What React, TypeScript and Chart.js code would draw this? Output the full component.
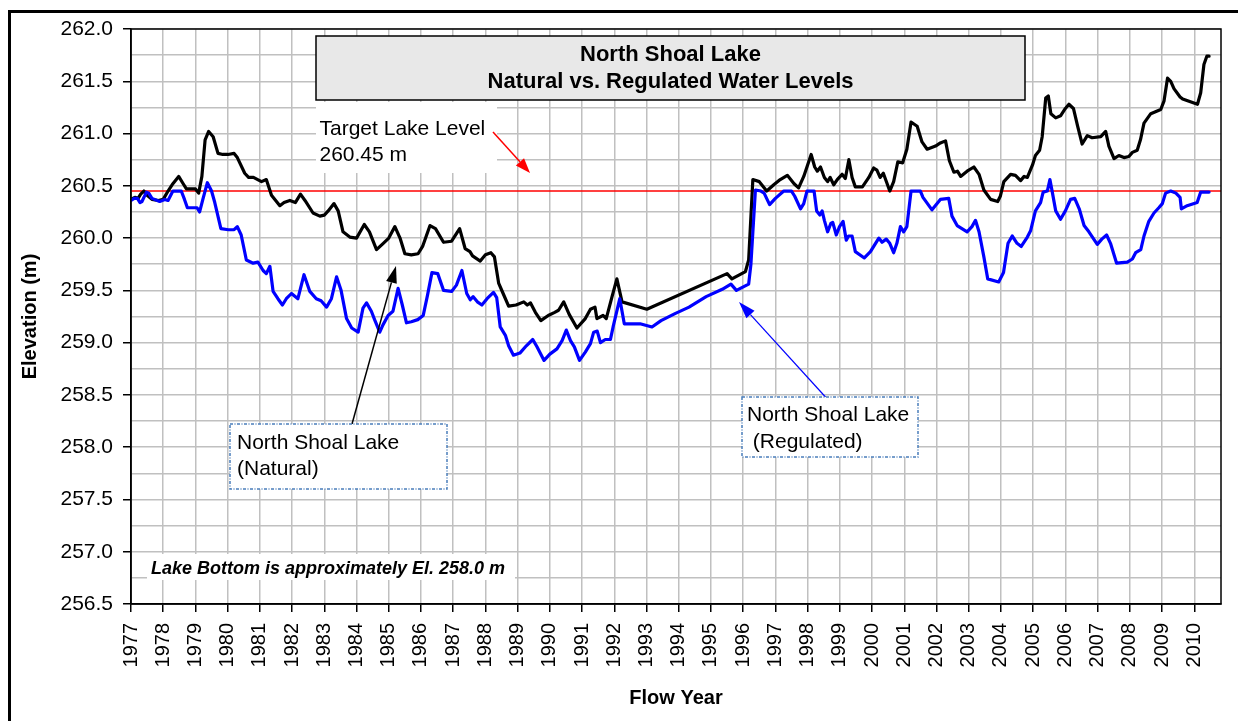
import React, { useEffect, useRef } from 'react';
import { Chart, registerables } from 'chart.js';

Chart.register(...registerables);

// ---------------- DATA ----------------
const naturalYears = [
  1977.0, 1977.12, 1977.22, 1977.3, 1977.4, 1977.5, 1977.65, 1977.85, 1978.0, 1978.15,
  1978.3, 1978.48, 1978.62, 1978.72, 1978.9, 1979.0, 1979.1, 1979.2, 1979.3, 1979.41,
  1979.55, 1979.7, 1979.85, 1980.01, 1980.2, 1980.3, 1980.53, 1980.65, 1980.8, 1981.05,
  1981.2, 1981.36, 1981.62, 1981.75, 1981.93, 1982.1, 1982.26, 1982.4, 1982.65, 1982.86,
  1983.0, 1983.12, 1983.3, 1983.43, 1983.58, 1983.79, 1984.0, 1984.24, 1984.4, 1984.62,
  1984.83, 1985.0, 1985.19, 1985.35, 1985.5, 1985.7, 1985.91, 1986.05, 1986.28, 1986.45,
  1986.7, 1986.95, 1987.2, 1987.37, 1987.52, 1987.6, 1987.84, 1988.0, 1988.17, 1988.28,
  1988.41, 1988.55, 1988.72, 1988.95, 1989.19, 1989.3, 1989.4, 1989.55, 1989.72, 1989.95,
  1990.15, 1990.27, 1990.43, 1990.6, 1990.84, 1991.1, 1991.26, 1991.4, 1991.46, 1991.65,
  1991.75, 1991.93, 1992.08, 1992.24, 1993.01, 1995.5, 1995.65, 1996.07, 1996.17, 1996.3,
  1996.5, 1996.73, 1996.95, 1997.15, 1997.37, 1997.58, 1997.72, 1997.88, 1998.0, 1998.11,
  1998.22, 1998.3, 1998.4, 1998.52, 1998.62, 1998.7, 1998.81, 1998.92, 1999.07, 1999.17,
  1999.28, 1999.38, 1999.48, 1999.7, 1999.9, 2000.05, 2000.15, 2000.25, 2000.35, 2000.55,
  2000.67, 2000.8, 2000.95, 2001.08, 2001.21, 2001.4, 2001.55, 2001.71, 2001.97, 2002.12,
  2002.28, 2002.4, 2002.54, 2002.65, 2002.75, 2002.95, 2003.16, 2003.32, 2003.47, 2003.68,
  2003.9, 2003.98, 2004.09, 2004.3, 2004.45, 2004.61, 2004.72, 2004.82, 2004.98, 2005.07,
  2005.2, 2005.28, 2005.39, 2005.47, 2005.55, 2005.7, 2005.85, 2006.0, 2006.11, 2006.25,
  2006.38, 2006.52, 2006.68, 2006.83, 2007.1, 2007.25, 2007.35, 2007.51, 2007.66, 2007.82,
  2007.97, 2008.08, 2008.23, 2008.33, 2008.44, 2008.65, 2008.96, 2009.06, 2009.17, 2009.27,
  2009.37, 2009.56, 2009.64, 2010.1, 2010.2, 2010.3, 2010.39, 2010.46,
];
const naturalLevels = [
  260.37, 260.39, 260.38, 260.42, 260.45, 260.41, 260.37, 260.36, 260.37, 260.45,
  260.52, 260.59, 260.52, 260.47, 260.47, 260.47, 260.43, 260.59, 260.94, 261.02,
  260.97, 260.81, 260.8, 260.8, 260.81, 260.77, 260.62, 260.58, 260.58, 260.54,
  260.56, 260.41, 260.31, 260.34, 260.36, 260.34, 260.42, 260.36, 260.24, 260.21,
  260.22, 260.26, 260.33, 260.26, 260.06, 260.01, 260.0, 260.13, 260.06, 259.89,
  259.95, 260.0, 260.11, 260.0, 259.85, 259.84, 259.85, 259.92, 260.12, 260.09,
  259.96, 259.97, 260.09, 259.9, 259.87, 259.83, 259.78, 259.84, 259.86, 259.82,
  259.57, 259.47, 259.35, 259.36, 259.39, 259.36, 259.38, 259.29, 259.21, 259.26,
  259.29, 259.31, 259.39, 259.27, 259.14, 259.23, 259.32, 259.34, 259.23, 259.26,
  259.23, 259.44, 259.61, 259.39, 259.32, 259.66, 259.61, 259.68, 259.79, 260.56,
  260.54, 260.45, 260.51, 260.56, 260.6, 260.52, 260.48, 260.59, 260.7, 260.8,
  260.68, 260.64, 260.68, 260.58, 260.54, 260.58, 260.51, 260.56, 260.61, 260.57,
  260.75, 260.58, 260.49, 260.49, 260.58, 260.67, 260.65, 260.58, 260.62, 260.45,
  260.54, 260.73, 260.72, 260.85, 261.11, 261.07, 260.92, 260.85, 260.88, 260.91,
  260.93, 260.74, 260.63, 260.64, 260.59, 260.64, 260.68, 260.61, 260.46, 260.37,
  260.35, 260.4, 260.54, 260.61, 260.6, 260.55, 260.59, 260.58, 260.7, 260.79,
  260.84, 260.97, 261.34, 261.36, 261.19, 261.15, 261.17, 261.24, 261.28, 261.24,
  261.07, 260.9, 260.98, 260.96, 260.97, 261.02, 260.88, 260.76, 260.79, 260.77,
  260.78, 260.82, 260.84, 260.94, 261.1, 261.19, 261.23, 261.31, 261.53, 261.5,
  261.43, 261.35, 261.33, 261.28, 261.39, 261.66, 261.74, 261.74,
];

const regulatedYears = [
  1977.0, 1977.1, 1977.2, 1977.28, 1977.34, 1977.48, 1977.55, 1977.65, 1977.89, 1978.05,
  1978.15, 1978.3, 1978.56, 1978.66, 1978.75, 1978.95, 1979.05, 1979.13, 1979.23, 1979.37,
  1979.5, 1979.6, 1979.79, 1980.02, 1980.2, 1980.3, 1980.42, 1980.58, 1980.79, 1980.94,
  1981.1, 1981.2, 1981.31, 1981.41, 1981.56, 1981.7, 1981.82, 1981.98, 1982.18, 1982.37,
  1982.55, 1982.75, 1982.9, 1983.07, 1983.22, 1983.38, 1983.52, 1983.69, 1983.85, 1984.05,
  1984.2, 1984.31, 1984.46, 1984.56, 1984.72, 1984.82, 1984.98, 1985.13, 1985.29, 1985.42,
  1985.55, 1985.7, 1985.9, 1986.07, 1986.2, 1986.34, 1986.52, 1986.7, 1986.95, 1987.1,
  1987.27, 1987.42, 1987.53, 1987.62, 1987.75, 1987.89, 1988.05, 1988.25, 1988.35, 1988.46,
  1988.62, 1988.72, 1988.87, 1989.07, 1989.27, 1989.47, 1989.6, 1989.82, 1990.0, 1990.22,
  1990.38, 1990.51, 1990.64, 1990.76, 1990.92, 1991.1, 1991.26, 1991.36, 1991.47, 1991.57,
  1991.72, 1991.88, 1991.97, 1992.17, 1992.31, 1992.8, 1993.17, 1993.45, 1993.9, 1994.32,
  1994.85, 1995.35, 1995.62, 1995.79, 1996.17, 1996.24, 1996.38, 1996.55, 1996.65, 1996.82,
  1997.0, 1997.26, 1997.5, 1997.6, 1997.78, 1997.88, 1997.98, 1998.2, 1998.28, 1998.38,
  1998.45, 1998.52, 1998.62, 1998.72, 1998.78, 1998.89, 1998.99, 1999.1, 1999.2, 1999.27,
  1999.38, 1999.48, 1999.76, 1999.95, 2000.21, 2000.31, 2000.44, 2000.55, 2000.67, 2000.77,
  2000.88, 2000.98, 2001.08, 2001.21, 2001.5, 2001.58, 2001.86, 2002.12, 2002.38, 2002.48,
  2002.64, 2002.95, 2003.1, 2003.21, 2003.32, 2003.47, 2003.59, 2003.93, 2004.08, 2004.22,
  2004.35, 2004.5, 2004.63, 2004.82, 2004.92, 2005.07, 2005.23, 2005.31, 2005.44, 2005.52,
  2005.6, 2005.7, 2005.85, 2006.0, 2006.16, 2006.29, 2006.43, 2006.58, 2006.73, 2006.99,
  2007.13, 2007.28, 2007.4, 2007.59, 2007.92, 2008.08, 2008.18, 2008.34, 2008.44, 2008.59,
  2008.75, 2008.9, 2009.01, 2009.11, 2009.27, 2009.43, 2009.56, 2009.6, 2009.78, 2010.09,
  2010.2, 2010.46,
];
const regulatedLevels = [
  260.36, 260.38, 260.38, 260.34, 260.35, 260.44, 260.43, 260.38, 260.35, 260.37,
  260.36, 260.45, 260.45, 260.37, 260.29, 260.29, 260.29, 260.25, 260.37, 260.53,
  260.45, 260.34, 260.09, 260.08, 260.08, 260.11, 260.03, 259.79, 259.76, 259.77,
  259.69, 259.66, 259.73, 259.49, 259.42, 259.36, 259.42, 259.47, 259.42, 259.65,
  259.49, 259.42, 259.4, 259.34, 259.42, 259.63, 259.5, 259.23, 259.14, 259.1,
  259.33, 259.38, 259.3, 259.22, 259.1, 259.17, 259.26, 259.3, 259.52, 259.36,
  259.19, 259.2, 259.22, 259.26, 259.45, 259.67, 259.66, 259.5, 259.49, 259.55,
  259.69, 259.47, 259.41, 259.44, 259.39, 259.36, 259.42, 259.48, 259.43, 259.15,
  259.07, 258.97, 258.88, 258.9, 258.97, 259.03, 258.96, 258.83, 258.89, 258.94,
  259.02, 259.12, 259.02, 258.96, 258.83, 258.91, 258.99, 259.1, 259.11, 259.0,
  259.03, 259.03, 259.16, 259.42, 259.18, 259.18, 259.15, 259.21, 259.28, 259.34,
  259.44, 259.51, 259.56, 259.5, 259.56, 259.75, 260.46, 260.45, 260.43, 260.32,
  260.38, 260.45, 260.45, 260.4, 260.28, 260.33, 260.45, 260.45, 260.26, 260.22,
  260.26, 260.17, 260.06, 260.14, 260.15, 260.03, 260.11, 260.16, 259.98, 260.02,
  260.02, 259.87, 259.81, 259.87, 260.0, 259.96, 259.99, 259.95, 259.86, 259.95,
  260.11, 260.06, 260.11, 260.45, 260.45, 260.39, 260.27, 260.37, 260.38, 260.21,
  260.12, 260.06, 260.11, 260.17, 260.06, 259.82, 259.61, 259.58, 259.67, 259.95,
  260.02, 259.95, 259.92, 260.01, 260.07, 260.26, 260.34, 260.44, 260.45, 260.56,
  260.43, 260.26, 260.18, 260.26, 260.37, 260.38, 260.28, 260.12, 260.06, 259.94,
  259.99, 260.03, 259.95, 259.76, 259.77, 259.8, 259.86, 259.89, 260.02, 260.16,
  260.24, 260.29, 260.33, 260.43, 260.45, 260.43, 260.39, 260.28, 260.31, 260.34,
  260.44, 260.44,
];

const targetLevel = 260.45;
const xRange = [1977, 2010.83];
const yRange = [256.5, 262.0];
const xTickStep = 1;
const yTickStep = 0.25;
const yLabelStep = 0.5;

const titleLines = ['North Shoal Lake', 'Natural vs. Regulated Water Levels'];
const targetLabelLines = ['Target Lake Level', '260.45 m'];
const naturalLabelLines = ['North Shoal Lake', '(Natural)'];
const regulatedLabelLines = ['North Shoal Lake', ' (Regulated)'];
const bottomNote = 'Lake Bottom is approximately El. 258.0 m';
const yAxisTitle = 'Elevation (m)';
const xAxisTitle = 'Flow Year';

// ---------------- DRAWING ----------------
const FONT = '"Liberation Sans", Arial, Helvetica, sans-serif';
const W = 1238;
const H = 721;

const isLabelTick = (v: number) =>
  Math.abs(v / yLabelStep - Math.round(v / yLabelStep)) < 1e-6;

function arrow(
  ctx: CanvasRenderingContext2D,
  x1: number, y1: number, x2: number, y2: number,
  color: string, width: number, headLen: number, headHalf: number
) {
  const ang = Math.atan2(y2 - y1, x2 - x1);
  const bx = x2 - headLen * Math.cos(ang);
  const by = y2 - headLen * Math.sin(ang);
  ctx.save();
  ctx.strokeStyle = color;
  ctx.fillStyle = color;
  ctx.lineWidth = width;
  ctx.beginPath();
  ctx.moveTo(x1, y1);
  ctx.lineTo(bx, by);
  ctx.stroke();
  ctx.beginPath();
  ctx.moveTo(x2, y2);
  ctx.lineTo(bx + headHalf * Math.sin(ang), by - headHalf * Math.cos(ang));
  ctx.lineTo(bx - headHalf * Math.sin(ang), by + headHalf * Math.cos(ang));
  ctx.closePath();
  ctx.fill();
  ctx.restore();
}

function dashedBox(ctx: CanvasRenderingContext2D, x: number, y: number, w: number, h: number) {
  ctx.save();
  ctx.fillStyle = '#FFFFFF';
  ctx.fillRect(x, y, w, h);
  ctx.strokeStyle = '#4A7EBB';
  ctx.lineWidth = 1.5;
  ctx.setLineDash([3, 1.5, 1, 1.5]);
  ctx.strokeRect(x, y, w, h);
  ctx.restore();
}

const decorPlugin = {
  id: 'decor',
  beforeDraw(chart: any) {
    const ctx = chart.ctx;
    ctx.save();
    ctx.fillStyle = '#FFFFFF';
    ctx.fillRect(0, 0, chart.width, chart.height);
    ctx.restore();
  },
  afterDraw(chart: any) {
    const ctx: CanvasRenderingContext2D = chart.ctx;
    const a = chart.chartArea;
    ctx.save();

    // plot frame
    ctx.strokeStyle = '#000';
    ctx.lineWidth = 1.5;
    ctx.strokeRect(a.left, a.top, a.right - a.left, a.bottom - a.top);

    // outer frame (top and left visible)
    ctx.fillStyle = '#000';
    ctx.fillRect(8, 10, W - 8, 3);
    ctx.fillRect(8, 10, 3, H - 10);

    // title box
    ctx.fillStyle = '#E8E8E8';
    ctx.fillRect(316, 36, 709, 64);
    ctx.strokeStyle = '#000';
    ctx.lineWidth = 1.5;
    ctx.strokeRect(316, 36, 709, 64);
    ctx.fillStyle = '#000';
    ctx.font = `bold 22px ${FONT}`;
    ctx.textAlign = 'center';
    ctx.textBaseline = 'middle';
    ctx.fillText(titleLines[0], 670.5, 55);
    ctx.fillText(titleLines[1], 670.5, 81.5);

    // target label
    ctx.fillStyle = '#FFFFFF';
    ctx.fillRect(316, 102, 181, 71);
    ctx.fillStyle = '#000';
    ctx.font = `21px ${FONT}`;
    ctx.textAlign = 'left';
    ctx.fillText(targetLabelLines[0], 319.5, 129);
    ctx.fillText(targetLabelLines[1], 319.5, 155);
    arrow(ctx, 493, 132, 530, 173, '#FF0000', 1.5, 15, 5.5);

    // lake bottom note
    ctx.fillStyle = '#FFFFFF';
    ctx.fillRect(147, 554, 368, 26);
    ctx.fillStyle = '#000';
    ctx.font = `italic bold 18px ${FONT}`;
    ctx.fillText(bottomNote, 151, 569);

    // natural label
    arrow(ctx, 352, 424, 396, 266, '#000', 1.5, 17, 5.5);
    dashedBox(ctx, 230, 424, 217, 65);
    ctx.fillStyle = '#000';
    ctx.font = `21px ${FONT}`;
    ctx.textAlign = 'left';
    ctx.fillText(naturalLabelLines[0], 237, 443);
    ctx.fillText(naturalLabelLines[1], 237, 469.5);

    // regulated label
    arrow(ctx, 825.5, 397, 739, 302, '#0000FF', 1.2, 17, 5.5);
    dashedBox(ctx, 742, 397, 176, 60);
    ctx.fillStyle = '#000';
    ctx.font = `21px ${FONT}`;
    ctx.fillText(regulatedLabelLines[0], 747, 415.5);
    ctx.fillText(regulatedLabelLines[1], 747, 442);

    ctx.restore();
  },
};

export default function App() {
  const canvasRef = useRef<HTMLCanvasElement | null>(null);

  useEffect(() => {
    const canvas = canvasRef.current;
    if (!canvas) return;
    Chart.defaults.font.family = FONT;
    Chart.defaults.color = '#000';

    const natural = naturalYears.map((x, i) => ({ x, y: naturalLevels[i] }));
    const regulated = regulatedYears.map((x, i) => ({ x, y: regulatedLevels[i] }));
    const target = [
      { x: xRange[0], y: targetLevel },
      { x: xRange[1], y: targetLevel },
    ];

    const chart = new Chart(canvas, {
      type: 'line',
      data: {
        datasets: [
          {
            label: 'North Shoal Lake (Regulated)',
            data: regulated,
            borderColor: '#0000FF',
            borderWidth: 3.2,
            pointRadius: 0,
            tension: 0,
            borderJoinStyle: 'round',
            borderCapStyle: 'round',
            order: 1,
          },
          {
            label: 'North Shoal Lake (Natural)',
            data: natural,
            borderColor: '#000000',
            borderWidth: 3.2,
            pointRadius: 0,
            tension: 0,
            borderJoinStyle: 'round',
            borderCapStyle: 'round',
            order: 2,
          },
          {
            label: 'Target Lake Level',
            data: target,
            borderColor: '#FF0000',
            borderWidth: 1.5,
            pointRadius: 0,
            tension: 0,
            order: 3,
          },
        ],
      },
      options: {
        responsive: false,
        animation: false,
        events: [],
        layout: { padding: { left: 0, top: 29, right: 17, bottom: 0 } },
        plugins: {
          legend: { display: false },
          tooltip: { enabled: false },
          title: { display: false },
        },
        scales: {
          x: {
            type: 'linear',
            min: xRange[0],
            max: xRange[1],
            afterFit: (s: any) => {
              s.height = 117;
            },
            ticks: {
              stepSize: xTickStep,
              autoSkip: false,
              includeBounds: false,
              minRotation: 90,
              maxRotation: 90,
              padding: 11,
              color: '#000',
              font: { size: 20, family: FONT },
              callback: (v: any) => String(Math.round(Number(v))),
            },
            grid: {
              color: '#C0C0C0',
              lineWidth: 1.5,
              tickLength: 8,
              tickColor: '#000',
              tickWidth: 1.5,
            },
            border: { color: '#000', width: 1.5 },
            title: {
              display: true,
              text: xAxisTitle,
              color: '#000',
              font: { size: 20, weight: 'bold', family: FONT },
              padding: { top: 0, bottom: 11 },
            },
          },
          y: {
            type: 'linear',
            min: yRange[0],
            max: yRange[1],
            afterFit: (s: any) => {
              s.width = 131;
            },
            ticks: {
              stepSize: yTickStep,
              autoSkip: false,
              padding: 10,
              color: '#000',
              font: { size: 21, family: FONT },
              callback: (v: any) => (isLabelTick(Number(v)) ? Number(v).toFixed(1) : ''),
            },
            grid: {
              color: '#C0C0C0',
              lineWidth: 1.5,
              tickLength: 8,
              tickWidth: 1.5,
              tickColor: (ctx: any) =>
                ctx.tick && isLabelTick(ctx.tick.value) ? '#000' : 'rgba(0,0,0,0)',
            },
            border: { color: '#000', width: 1.5 },
            title: {
              display: true,
              text: yAxisTitle,
              color: '#000',
              font: { size: 20, weight: 'bold', family: FONT },
              padding: { top: 18, bottom: 0 },
            },
          },
        },
      } as any,
      plugins: [decorPlugin],
    });

    return () => {
      chart.destroy();
    };
  }, []);

  return (
    <div style={{ position: 'absolute', left: 0, top: 0, width: W, height: H, overflow: 'hidden' }}>
      <canvas ref={canvasRef} width={W} height={H} style={{ display: 'block', width: W, height: H }} />
    </div>
  );
}
